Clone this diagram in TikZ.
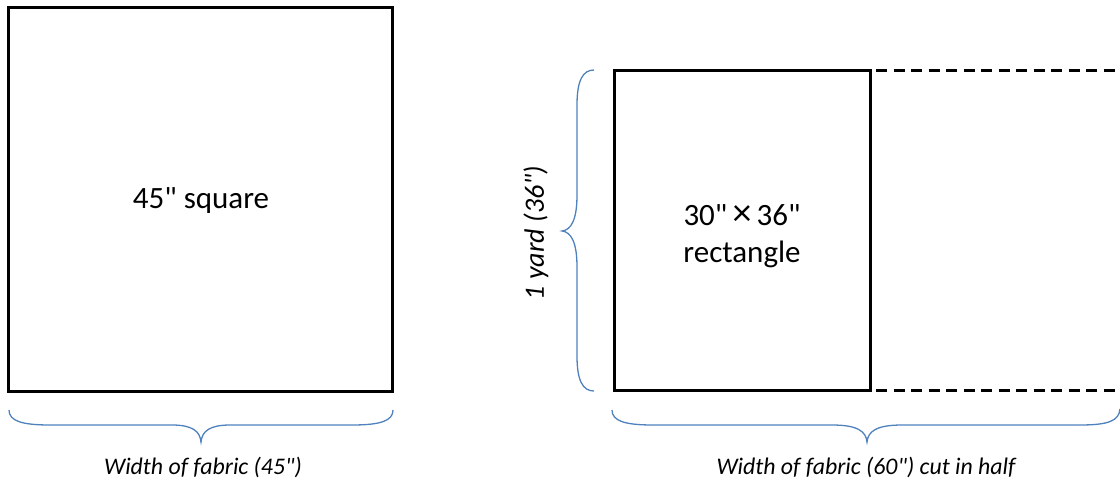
\documentclass[tikz,border=0pt]{standalone}
\usepackage{fontspec}
\setmainfont{Carlito}[Ligatures=TeXOff]
\definecolor{bracecol}{RGB}{79,129,189}
\begin{document}
\begin{tikzpicture}[x=1pt,y=-1pt,
  box/.style={draw=black,line width=3pt},
  dashline/.style={draw=black,line width=3pt,dash pattern=on 11pt off 6.5pt,dash phase=-5pt},
  bracepath/.style={draw=bracecol,line width=1.3pt},
  bigtext/.style={font=\fontsize{31}{37}\selectfont,align=center,inner sep=0pt},
  labeltext/.style={font=\fontsize{23.8}{28}\selectfont\itshape,inner sep=0pt}]
\useasboundingbox (0,0) rectangle (1120,483);
% left square
\draw[box] (8.8,7.5) rectangle (392,391);
\node[bigtext] (sq) at (201,201) {45" square};
% right rectangle
\draw[box] (870,70) -- (614,70) -- (614,390) -- (870,390) -- cycle;
\draw[dashline] (871,70) -- (1121,70);
\draw[dashline] (871,390) -- (1121,390);
\node[bigtext] (rect) at (742,236) {30"\,{\fontsize{38}{37}\selectfont ×}\,36"\\rectangle};
% bottom left brace
\draw[bracepath] (9,410) .. controls (9,421) and (22,425) .. (50,425) -- (172,425)
  .. controls (192,425) and (200,431) .. (201,442)
  .. controls (202,431) and (210,425) .. (230,425) -- (352,425)
  .. controls (380,425) and (393,421) .. (393,410);
\node[labeltext] (lab1) at (203,467) {Width of fabric (45")};
% bottom right brace
\draw[bracepath] (612,410) .. controls (612,421) and (625,425) .. (653,425) -- (832,425)
  .. controls (857,425) and (866,431) .. (867,442)
  .. controls (868,431) and (877,425) .. (902,425) -- (1080,425)
  .. controls (1108,425) and (1119,421) .. (1120,409);
\node[labeltext] (lab2) at (866,467) {Width of fabric (60") cut in half};
% vertical brace
\draw[bracepath] (594,70) .. controls (583,70) and (577,80) .. (577,105) -- (577,195)
  .. controls (577,220) and (571,230) .. (562,231)
  .. controls (571,232) and (577,242) .. (577,267) -- (577,356)
  .. controls (577,381) and (583,391) .. (594,391);
\node[labeltext,rotate=90,font=\fontsize{28}{34}\selectfont\itshape] (lab3) at (536,233) {1 yard (36")};
\end{tikzpicture}
\end{document}
